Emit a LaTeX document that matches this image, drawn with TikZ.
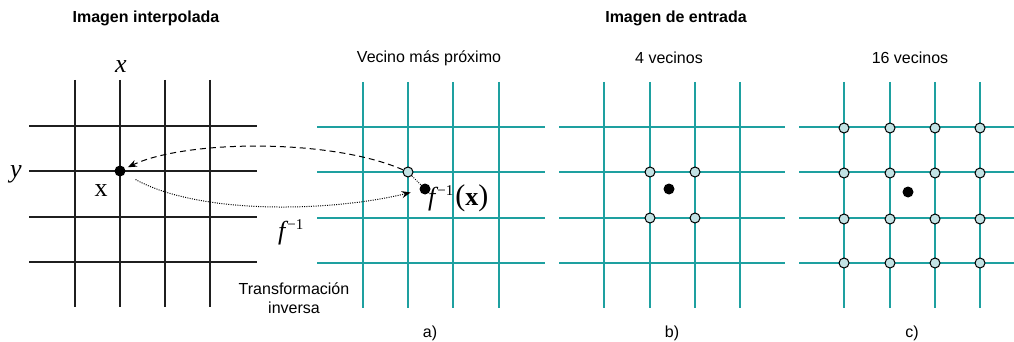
\documentclass[tikz,border=0pt]{standalone}
\usepackage{fontspec}
\setmainfont{Liberation Sans}
\newfontfamily\tms{Liberation Serif}
\usetikzlibrary{arrows.meta}
\definecolor{tealline}{RGB}{30,160,160}
\definecolor{cfill}{RGB}{195,226,228}
\begin{document}
\begin{tikzpicture}[x=1pt,y=-1pt,
  blk/.style={line width=1.3pt,black!88},
  tl/.style={line width=1.3pt,tealline},
  nbr/.style={circle,draw=black,line width=1pt,fill=cfill,inner sep=0pt,minimum size=10pt},
  dotb/.style={circle,fill=black,inner sep=0pt,minimum size=11pt},
  lbl/.style={inner sep=0pt,font=\fontsize{16}{19}\selectfont},
  ttl/.style={inner sep=0pt,font=\fontsize{16}{19}\selectfont\bfseries},
  mth/.style={inner sep=0pt,font=\tms\fontsize{26}{26}\selectfont},
  tip/.style={-{Stealth[length=9pt,width=7pt]}}]
\useasboundingbox (0,0) rectangle (1014,342);
% black grid
\foreach \x in {75,120,165,210} \draw[blk] (\x,80) -- (\x,307);
\foreach \y in {126,171,217,262} \draw[blk] (29,\y) -- (257,\y);
% teal grids
\foreach \x in {363,408,453,499,604,650,695,740,844,890,935,980} \draw[tl] (\x,82) -- (\x,308);
\foreach \y in {127,172,218,263} {
  \draw[tl] (317,\y) -- (545,\y);
  \draw[tl] (559,\y) -- (785,\y);
  \draw[tl] (799,\y) -- (1014,\y);
}
% titles
\node[ttl] (t1) at (146,18) {Imagen interpolada};
\node[ttl] (t2) at (676,18) {Imagen de entrada};
\node[lbl] (s1) at (429,58) {Vecino más próximo};
\node[lbl] (s2) at (669,58) {4 vecinos};
\node[lbl] (s3) at (910,58) {16 vecinos};
\node[lbl] (la) at (430,333) {a)};
\node[lbl] (lb) at (672,333) {b)};
\node[lbl] (lc) at (912,333) {c)};
\node[lbl,align=center,font=\fontsize{16}{19}\selectfont] (tinv) at (294,298) {Transformación\\inversa};
% math labels
\node[mth,anchor=base] (mx) at (121,73) {\itshape x};
\node[mth,anchor=base] (my) at (16,177) {\itshape y};
\node[mth,anchor=base] (mbx) at (101,196) {x};
\node[mth,anchor=base west] (mf) at (278,239) {\itshape f\hspace{2pt}\raisebox{10pt}{\upshape\fontsize{15}{15}\selectfont −1}};
% points a)
\node[dotb] (px) at (120,171) {};
\node[nbr] (na) at (408,172) {};
\node[dotb] (pa) at (425,189) {};
\node[mth,anchor=base west] (mfx) at (428,205) {\itshape f\hspace{2pt}\raisebox{10pt}{\upshape\fontsize{15}{15}\selectfont −1}\hspace{2pt}\upshape{\fontsize{30}{30}\selectfont(}\bfseries x{\mdseries\fontsize{30}{30}\selectfont)}};
% points b)
\node[nbr] (b1) at (650,172) {};
\node[nbr] (b2) at (695,172) {};
\node[nbr] (b3) at (650,218) {};
\node[nbr] (b4) at (695,218) {};
\node[dotb] (pb) at (669,189) {};
% points c)
\foreach \x in {844,890,935,980} \foreach \y in {128,173,219,263} \node[nbr] at (\x,\y) {};
\node[dotb] (pc) at (908,192) {};
% connectors
\draw[line width=1pt,dash pattern=on 6pt off 4pt,tip,shorten >=3pt] (na) .. controls (330,138) and (185,140) .. (px);
\draw[line width=1pt,dash pattern=on 1pt off 1.3pt,tip,shorten <=12pt,shorten >=9pt] (px) .. controls (200,215) and (330,212) .. (pa);
\draw[line width=1pt,dash pattern=on 1pt off 1.3pt] (na) -- (pa);
\end{tikzpicture}
\end{document}
